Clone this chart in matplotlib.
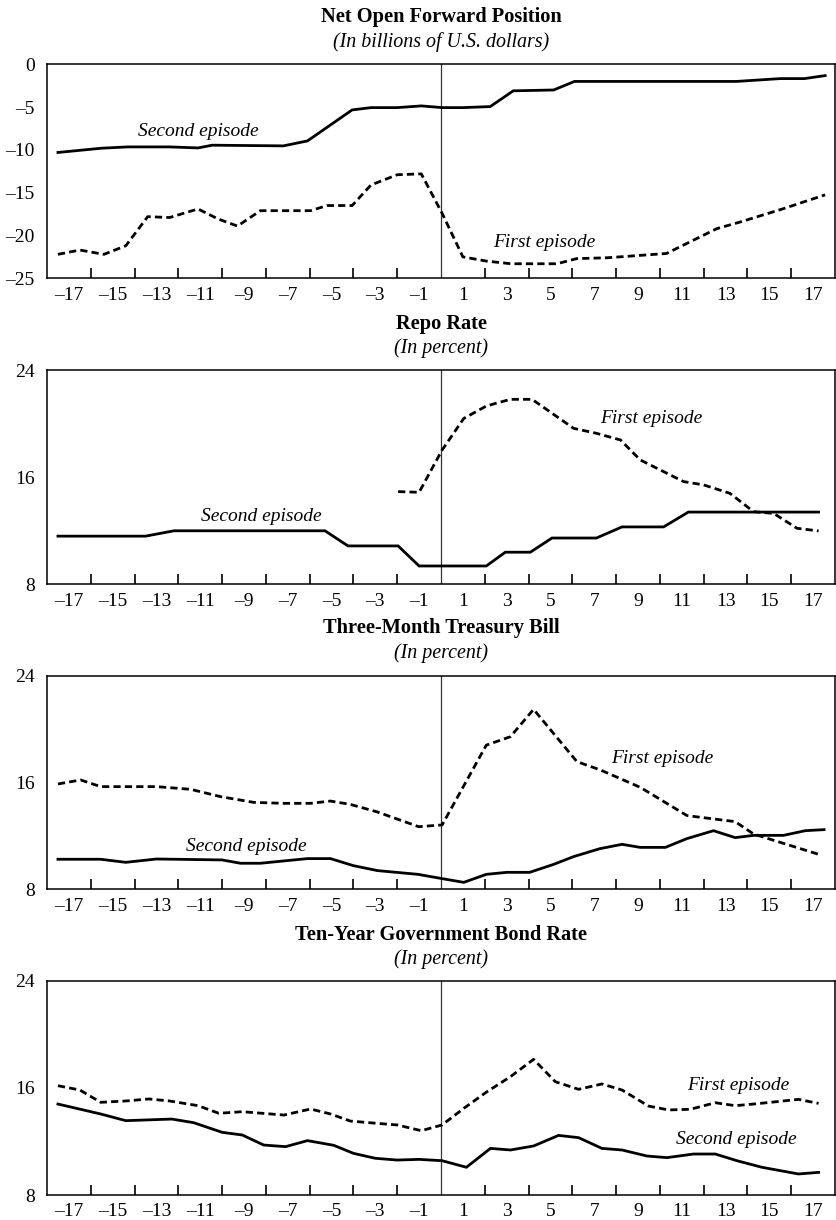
import matplotlib
matplotlib.use("Agg")
import matplotlib.pyplot as plt

plt.rcParams['font.family'] = ['Liberation Serif', 'DejaVu Serif']

# Net open forward position (billions of U.S. dollars)
fwd_second_x = [-17.5, -15.5, -14.3, -12.4, -11.1, -10.45, -7.2, -6.1, -4.06, -3.2, -2.0, -0.9,
                0.05, 1.0, 2.25, 3.3, 5.15, 6.1, 13.5, 15.5, 16.6, 17.55]
fwd_second_y = [-10.3, -9.8, -9.65, -9.65, -9.77, -9.45, -9.53, -8.95, -5.33, -5.06, -5.06, -4.86,
                -5.06, -5.06, -4.94, -3.1, -3.0, -2.0, -2.0, -1.67, -1.67, -1.32]
fwd_first_x = [-17.5, -16.5, -15.4, -14.4, -13.4, -12.4, -11.1, -10.2, -9.3, -8.25, -5.96, -5.2,
               -4.06, -3.2, -2.0, -0.9, 0.05, 1.0, 2.1, 3.2, 5.3, 6.2, 7.6, 10.3, 12.6, 13.7,
               15.6, 17.55]
fwd_first_y = [-22.2, -21.7, -22.2, -21.2, -17.8, -17.9, -16.9, -18.05, -18.9, -17.1, -17.1, -16.5,
               -16.5, -14.1, -12.9, -12.8, -17.4, -22.5, -23.0, -23.3, -23.3, -22.7, -22.6, -22.1,
               -19.2, -18.4, -16.9, -15.25]

# Repo rate (percent)
repo_second_x = [-17.5, -13.5, -12.2, -5.3, -4.25, -1.96, -1.0, 2.07, 2.94, 4.08, 5.07, 7.1,
                 8.27, 10.17, 11.3, 17.25]
repo_second_y = [11.6, 11.6, 12.0, 12.0, 10.87, 10.87, 9.37, 9.37, 10.4, 10.4, 11.46, 11.46,
                 12.29, 12.29, 13.4, 13.4]
repo_first_x = [-1.96, -1.0, 0.05, 1.04, 2.07, 3.17, 4.16, 6.06, 7.1, 8.2, 9.1, 11.08, 12.0,
                13.2, 14.28, 15.2, 16.26, 17.25]
repo_first_y = [14.93, 14.88, 18.04, 20.4, 21.33, 21.83, 21.83, 19.66, 19.29, 18.79, 17.3, 15.68,
                15.43, 14.8, 13.43, 13.3, 12.19, 11.99]

# Three-month treasury bill (percent)
tbill_second_x = [-17.5, -15.55, -14.4, -13.0, -10.0, -9.16, -8.25, -6.1, -5.05, -4.0, -2.9, -1.05,
                  0.05, 1.04, 2.07, 3.0, 4.05, 5.15, 6.06, 7.25, 8.27, 9.1, 10.25, 11.24, 12.45,
                  13.44, 14.28, 15.65, 16.64, 17.5]
tbill_second_y = [10.25, 10.25, 10.02, 10.27, 10.2, 9.95, 9.95, 10.3, 10.3, 9.77, 9.4, 9.12,
                  8.8, 8.52, 9.12, 9.27, 9.27, 9.87, 10.45, 11.04, 11.37, 11.14, 11.14, 11.8, 12.39,
                  11.87, 12.04, 12.04, 12.39, 12.47]
tbill_first_x = [-17.5, -16.46, -15.55, -13.0, -11.44, -10.07, -8.55, -7.18, -5.96, -5.05, -4.14,
                 -2.92, -1.02, 0.05, 2.07, 3.17, 4.23, 6.21, 7.28, 9.1, 11.24, 13.44, 14.28, 17.25]
tbill_first_y = [15.89, 16.19, 15.69, 15.69, 15.49, 14.94, 14.51, 14.44, 14.44, 14.61, 14.36,
                 13.8, 12.69, 12.82, 18.8, 19.43, 21.48, 17.56, 16.94, 15.64, 13.52, 13.07, 12.14,
                 10.62]

# Ten-year government bond rate (percent)
bond_second_x = [-17.5, -15.55, -14.4, -12.3, -11.3, -10.0, -9.08, -8.1, -7.1, -6.1, -4.9, -4.0,
                 -3.0, -2.0, -1.0, 0.05, 1.16, 2.26, 3.17, 4.23, 5.37, 6.29, 7.35, 8.27, 9.41,
                 10.32, 11.54, 12.53, 13.52, 14.66, 16.33, 17.25]
bond_second_y = [14.79, 14.05, 13.55, 13.67, 13.4, 12.68, 12.48, 11.73, 11.61, 12.06, 11.71, 11.11,
                 10.74, 10.61, 10.66, 10.56, 10.07, 11.48, 11.36, 11.66, 12.45, 12.28, 11.48, 11.36,
                 10.91, 10.79, 11.06, 11.06, 10.56, 10.07, 9.57, 9.69]
bond_first_x = [-17.5, -16.5, -15.55, -14.4, -13.35, -12.4, -11.1, -10.15, -9.08, -7.18, -5.96,
                -5.05, -4.14, -2.92, -2.0, -0.9, 0.05, 1.04, 2.1, 3.17, 4.23, 5.22, 6.29, 7.35,
                8.27, 9.48, 10.4, 11.39, 12.53, 13.44, 14.28, 15.35, 16.33, 17.25]
bond_first_y = [16.16, 15.84, 14.92, 15.02, 15.17, 15.02, 14.67, 14.1, 14.22, 13.97, 14.42,
                14.05, 13.52, 13.35, 13.23, 12.8, 13.23, 14.47, 15.71, 16.83, 18.13, 16.46, 15.89,
                16.29, 15.84, 14.64, 14.35, 14.4, 14.89, 14.67, 14.79, 14.97, 15.14, 14.84]

titles = ["Net Open Forward Position", "Repo Rate", "Three-Month Treasury Bill",
          "Ten-Year Government Bond Rate"]
subtitles = ["(In billions of U.S. dollars)", "(In percent)", "(In percent)", "(In percent)"]

x_labels = list(range(-17, 18, 2))
x_marks = [v for v in range(-16, 17, 2) if v != 0]

W, H = 836, 1220
fig = plt.figure(figsize=(W / 100, H / 100), dpi=100)

# panel boxes in pixels: (top, bottom)
boxes = [(64.3, 278.3), (370.3, 584.3), (675.7, 889.3), (980.7, 1195.0)]
title_y = [(17, 42), (324, 348), (628, 653), (935, 959)]
left_px, right_px = 47, 835

panels = [
    dict(second=(fwd_second_x, fwd_second_y), first=(fwd_first_x, fwd_first_y),
         ylim=(-25, 0), yticks=[0, -5, -10, -15, -20, -25], marks=[-5, -10, -15, -20],
         lab2=(-11.1, -7.8), lab1=(4.7, -20.8)),
    dict(second=(repo_second_x, repo_second_y), first=(repo_first_x, repo_first_y),
         ylim=(8, 24), yticks=[8, 16, 24], marks=[16],
         lab2=(-8.2, 13.05), lab1=(9.6, 20.4)),
    dict(second=(tbill_second_x, tbill_second_y), first=(tbill_first_x, tbill_first_y),
         ylim=(8, 24), yticks=[8, 16, 24], marks=[16],
         lab2=(-8.9, 11.2), lab1=(10.1, 17.8)),
    dict(second=(bond_second_x, bond_second_y), first=(bond_first_x, bond_first_y),
         ylim=(8, 24), yticks=[8, 16, 24], marks=[16],
         lab2=(13.5, 12.15), lab1=(13.6, 16.2)),
]

for i, p in enumerate(panels):
    top, bot = boxes[i]
    ax = fig.add_axes([left_px / W, 1 - bot / H, (right_px - left_px) / W, (bot - top) / H])
    ax.set_xlim(-18, 18)
    ax.set_ylim(*p['ylim'])

    ax.axvline(0, color='#333333', lw=0.9)
    ax.plot(*p['second'], color='black', lw=2.0, solid_joinstyle='miter')
    ax.plot(*p['first'], color='black', lw=2.0, linestyle=(0, (2.6, 1.5)))

    ax.text(*p['lab2'], "Second episode", style='italic', fontsize=14, ha='center', va='center')
    ax.text(*p['lab1'], "First episode", style='italic', fontsize=14, ha='center', va='center')

    # x axis: labels on odd periods, short inward marks on even ones
    ax.set_xticks(x_labels)
    ax.set_xticklabels([f"{v}".replace('-', '\u2013') for v in x_labels])
    ax.set_xticks(x_marks, minor=True)
    ax.tick_params(axis='x', which='major', length=0, pad=6, labelsize=14)
    ax.tick_params(axis='x', which='minor', direction='in', length=7, width=1.2)

    # y axis: labels on the left, inward marks on both sides
    ax.set_yticks(p['yticks'])
    ax.set_yticklabels([f"{v}".replace('-', '\u2013') for v in p['yticks']])
    ax.set_yticks(p['marks'], minor=True)
    ax.tick_params(axis='y', which='major', length=0, pad=9, labelsize=14)
    ax.tick_params(axis='y', which='minor', direction='in', length=14, width=1.2,
                   left=True, right=True)

    for s in ax.spines.values():
        s.set_linewidth(1.1)

    fig.text(441 / W, 1 - title_y[i][0] / H, titles[i], fontweight='bold', fontsize=14.7,
             ha='center', va='center')
    fig.text(441 / W, 1 - title_y[i][1] / H, subtitles[i], style='italic', fontsize=14.4,
             ha='center', va='center')

fig.savefig("out.png", dpi=100)
